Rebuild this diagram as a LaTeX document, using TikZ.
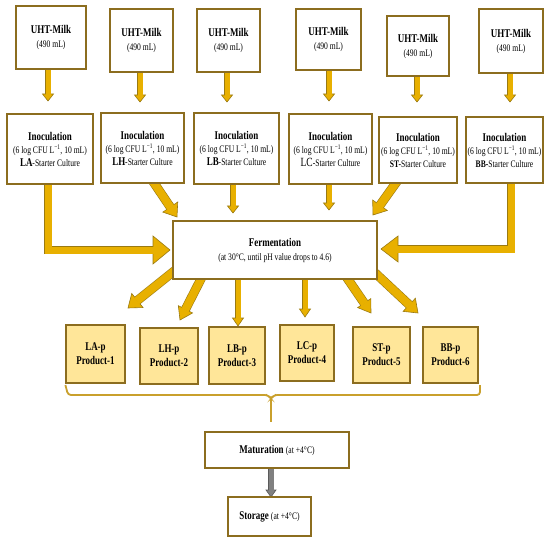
\documentclass[tikz,border=0pt]{standalone}
\usepackage{fontspec}
\setmainfont[FakeStretch=0.76]{Liberation Serif}
\usetikzlibrary{calc,backgrounds}
\definecolor{boxedge}{HTML}{8C6D1F}
\definecolor{goldfill}{HTML}{E8B000}
\definecolor{goldedge}{HTML}{9A7A12}
\definecolor{grayfill}{HTML}{808080}
\definecolor{grayedge}{HTML}{5A5A5A}
\definecolor{prodfill}{HTML}{FFE699}
\definecolor{bracecol}{HTML}{C9A02C}
\newcommand\hdr{\fontsize{11.8}{13}\selectfont\bfseries}
\newcommand\sml{\fontsize{10}{12}\selectfont\mdseries}
% #1 path up to last vertex, #2 last vertex, #3 tip, #4 shaft width, #5 head half width, #6 head length, #7 colour prefix
\newcommand\blockarr[7]{%
  \coordinate (hb) at ($(#3)!#6!(#2)$);
  \draw[line width=#4+1.2pt, draw=#7edge, line join=miter] #1 -- (hb);
  \filldraw[fill=#7fill, draw=#7edge, line width=0.6pt, line join=miter]
    (#3) -- ($(hb)!#5!90:(#3)$) -- ($(hb)!#5!-90:(#3)$) -- cycle;
  \draw[line width=#4, draw=#7fill, line join=miter] #1 -- ($(hb)!0.8pt!(#3)$);
}
\begin{document}
\begin{tikzpicture}[x=1pt,y=-1pt,
  box/.style={draw=boxedge, line width=1.2pt, fill=white, align=center, inner sep=1pt},
  prod/.style={box, fill=prodfill, font=\hdr},
  bracelines/.style={draw=bracecol, line width=1.8pt}]
\useasboundingbox (0,0) rectangle (550,543);
% UHT milk boxes
\node[box, minimum width=70pt, minimum height=63pt] (u1) at (51,37.5) {\hdr UHT-Milk\\[2pt]\sml (490 mL)};
\node[box, minimum width=63pt, minimum height=63pt] (u2) at (141.5,40.5) {\hdr UHT-Milk\\[2pt]\sml (490 mL)};
\node[box, minimum width=63pt, minimum height=63pt] (u3) at (228.5,40.5) {\hdr UHT-Milk\\[2pt]\sml (490 mL)};
\node[box, minimum width=65pt, minimum height=61pt] (u4) at (328.5,39.5) {\hdr UHT-Milk\\[2pt]\sml (490 mL)};
\node[box, minimum width=62pt, minimum height=60pt] (u5) at (418,46) {\hdr UHT-Milk\\[2pt]\sml (490 mL)};
\node[box, minimum width=64pt, minimum height=64pt] (u6) at (511,41) {\hdr UHT-Milk\\[2pt]\sml (490 mL)};
% Inoculation boxes
\node[box, minimum width=86pt, minimum height=70pt] (i1) at (50,149) {\hdr Inoculation\\[1pt]\sml (6 log CFU L\textsuperscript{−1}, 10 mL)\\[1pt]{\hdr LA}\sml-Starter Culture};
\node[box, minimum width=83pt, minimum height=70pt] (i2) at (142.5,148) {\hdr Inoculation\\[1pt]\sml (6 log CFU L\textsuperscript{−1}, 10 mL)\\[1pt]{\hdr LH}\sml-Starter Culture};
\node[box, minimum width=85pt, minimum height=71pt] (i3) at (236.5,148.5) {\hdr Inoculation\\[1pt]\sml (6 log CFU L\textsuperscript{−1}, 10 mL)\\[1pt]{\hdr LB}\sml-Starter Culture};
\node[box, minimum width=83pt, minimum height=70pt] (i4) at (330.5,149) {\hdr Inoculation\\[1pt]\sml (6 log CFU L\textsuperscript{−1}, 10 mL)\\[1pt]{\fontsize{12.5}{13}\selectfont LC}\sml-Starter Culture};
\node[box, minimum width=78pt, minimum height=66pt] (i5) at (418,150) {\hdr Inoculation\\[1pt]\sml (6 log CFU L\textsuperscript{−1}, 10 mL)\\[1pt]\sml\textbf{ST-}Starter Culture};
\node[box, minimum width=77pt, minimum height=66pt] (i6) at (504.5,150) {\hdr Inoculation\\[1pt]\sml (6 log CFU L\textsuperscript{−1}, 10 mL)\\[1pt]\sml\textbf{BB-}Starter Culture};
% Fermentation
\node[box, minimum width=204pt, minimum height=58pt] (f) at (275,250) {\hdr Fermentation\\[2pt]\sml (at 30°C, until pH value drops to 4.6)};
% Products
\node[prod, minimum width=59pt, minimum height=58pt] (p1) at (95.5,354) {LA-p\\[1pt]\hdr Product-1};
\node[prod, minimum width=58pt, minimum height=56pt] (p2) at (169,356) {LH-p\\[1pt]\hdr Product-2};
\node[prod, minimum width=56pt, minimum height=57pt] (p3) at (237,355.5) {LB-p\\[1pt]\hdr Product-3};
\node[prod, minimum width=54pt, minimum height=56pt] (p4) at (307,353) {LC-p\\[1pt]\hdr Product-4};
\node[prod, minimum width=57pt, minimum height=56pt] (p5) at (381.5,355) {ST-p\\[1pt]\hdr Product-5};
\node[prod, minimum width=55pt, minimum height=56pt] (p6) at (450.5,355) {BB-p\\[1pt]\hdr Product-6};
% Maturation and storage
\node[box, minimum width=144pt, minimum height=36pt] (mat) at (277,450) {\hdr Maturation \sml(at +4°C)};
\node[box, minimum width=83pt, minimum height=39pt] (sto) at (269.5,516.5) {\hdr Storage \sml(at +4°C)};
% brace
\draw[bracelines, rounded corners=3pt] (p1.south west |- 0,385) -- (68,395) -- (268,395) -- (271,399) -- (274,395) -- (480,395) -- (480,385);
\coordinate (bt) at (271,397);
\coordinate (bb) at (271,422);
\draw[bracelines] (bt) -- (bb);
% arrows
\coordinate (t1) at (48,101); \coordinate (s1) at (u1.south -| t1);
\coordinate (t2) at (140,102); \coordinate (s2) at (u2.south -| t2);
\coordinate (t3) at (227,102); \coordinate (s3) at (u3.south -| t3);
\coordinate (t4) at (329,101); \coordinate (s4) at (u4.south -| t4);
\coordinate (t5) at (417,102); \coordinate (s5) at (u5.south -| t5);
\coordinate (t6) at (510,102); \coordinate (s6) at (u6.south -| t6);
\coordinate (ti3) at (233,213); \coordinate (si3) at (i3.south -| ti3);
\coordinate (ti4) at (329,210); \coordinate (si4) at (i4.south -| ti4);
\coordinate (si2) at (152,180); \coordinate (ti2) at (177,217);
\coordinate (si5) at (398,180); \coordinate (ti5) at (373,215);
\coordinate (si1) at (48,180); \coordinate (ci1) at (48,250); \coordinate (ti1) at (170,250);
\coordinate (si6) at (511,180); \coordinate (ci6) at (511,249); \coordinate (ti6) at (381,249);
\coordinate (sp1) at (178,268); \coordinate (tp1) at (128,308);
\coordinate (sp2) at (203,275); \coordinate (tp2) at (180,320);
\coordinate (tp3) at (238,326); \coordinate (sp3) at (f.south -| tp3);
\coordinate (tp4) at (305,317); \coordinate (sp4) at (f.south -| tp4);
\coordinate (sp5) at (345,275); \coordinate (tp5) at (371,313);
\coordinate (sp6) at (372,270); \coordinate (tp6) at (418,313);
\coordinate (tg) at (271,497); \coordinate (sg) at (mat.south -| tg);
\begin{pgfonlayer}{background}
\blockarr{(s1)}{s1}{t1}{5pt}{5.5pt}{7pt}{gold}
\blockarr{(s2)}{s2}{t2}{5pt}{5.5pt}{7pt}{gold}
\blockarr{(s3)}{s3}{t3}{5pt}{5.5pt}{7pt}{gold}
\blockarr{(s4)}{s4}{t4}{5pt}{5.5pt}{7pt}{gold}
\blockarr{(s5)}{s5}{t5}{5pt}{5.5pt}{7pt}{gold}
\blockarr{(s6)}{s6}{t6}{5pt}{5.5pt}{7pt}{gold}
\blockarr{(si3)}{si3}{ti3}{5pt}{5.5pt}{7pt}{gold}
\blockarr{(si4)}{si4}{ti4}{5pt}{5.5pt}{7pt}{gold}
\blockarr{(si2)}{si2}{ti2}{8pt}{9pt}{12pt}{gold}
\blockarr{(si5)}{si5}{ti5}{8pt}{9pt}{12pt}{gold}
\blockarr{(si1) -- (ci1)}{ci1}{ti1}{7pt}{14pt}{17pt}{gold}
\blockarr{(si6) -- (ci6)}{ci6}{ti6}{7pt}{13pt}{17pt}{gold}
\blockarr{(sp1)}{sp1}{tp1}{8pt}{9pt}{12pt}{gold}
\blockarr{(sp2)}{sp2}{tp2}{8pt}{8pt}{12pt}{gold}
\blockarr{(sp3)}{sp3}{tp3}{5pt}{5.5pt}{8pt}{gold}
\blockarr{(sp4)}{sp4}{tp4}{5pt}{5.5pt}{8pt}{gold}
\blockarr{(sp5)}{sp5}{tp5}{8pt}{8pt}{12pt}{gold}
\blockarr{(sp6)}{sp6}{tp6}{8pt}{9pt}{12pt}{gold}
\blockarr{(sg)}{sg}{tg}{5pt}{5pt}{7pt}{gray}
\end{pgfonlayer}
\end{tikzpicture}
\end{document}
